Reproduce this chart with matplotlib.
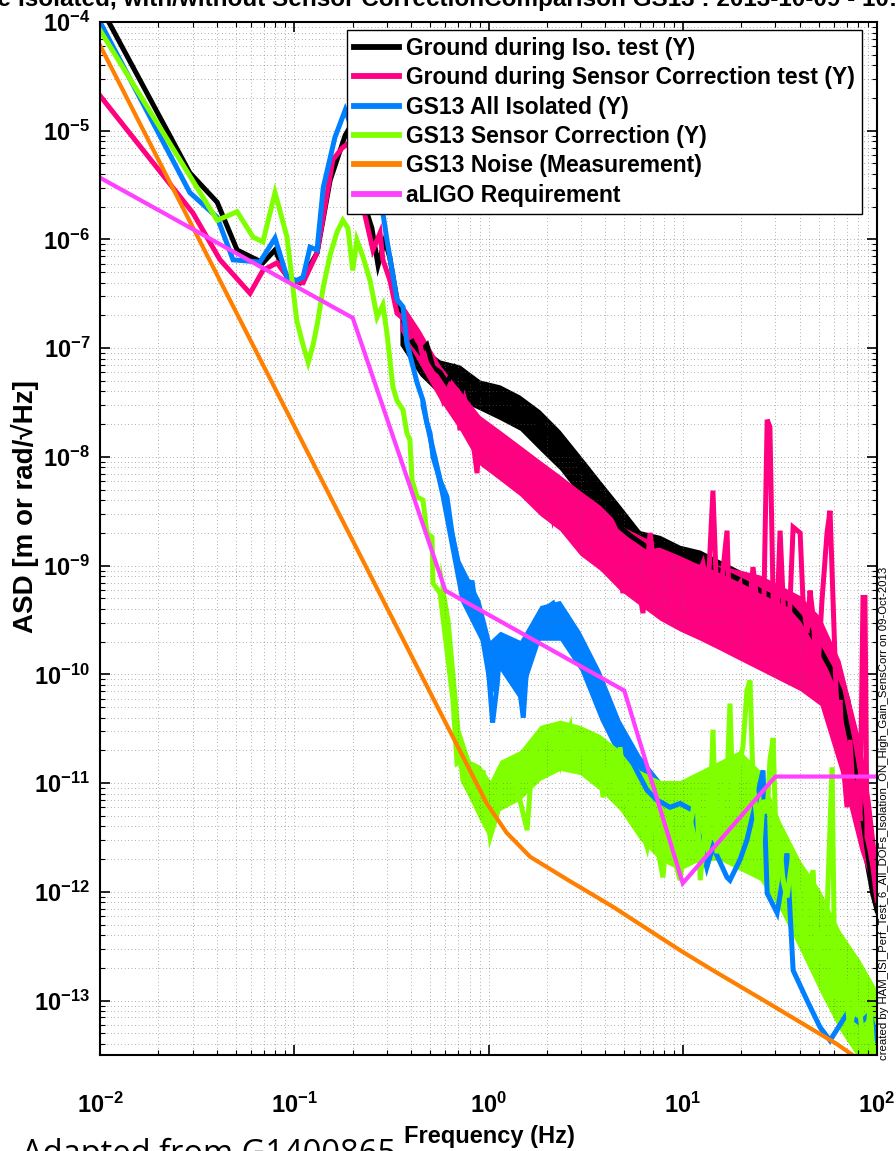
import matplotlib
matplotlib.use('Agg')
import matplotlib.pyplot as plt
from matplotlib.ticker import LogLocator, NullFormatter

plt.rcParams['font.family'] = ['Liberation Sans', 'DejaVu Sans']
plt.rcParams['font.weight'] = 'bold'
plt.rcParams['mathtext.fontset'] = 'custom'
plt.rcParams['mathtext.rm'] = 'Liberation Sans:bold'
plt.rcParams['mathtext.bf'] = 'Liberation Sans:bold'
plt.rcParams['mathtext.it'] = 'Liberation Sans:bold:italic'

# (frequency Hz, ASD)
ground_iso = [(0.01, 1.4e-4), (0.0113, 9.4e-5), (0.029, 4.1e-6), (0.0401, 2.2e-6), (0.0508, 8.0e-7),
              (0.069, 6.1e-7), (0.0796, 8.0e-7), (0.0918, 4.5e-7), (0.107, 4.0e-7), (0.131, 7.5e-7),
              (0.153, 3.5e-6), (0.183, 9.1e-6), (0.206, 1.3e-5), (0.226, 2.3e-6), (0.251, 1.27e-6),
              (0.27, 5.8e-7), (0.293, 9.9e-7), (0.311, 6.7e-7), (0.338, 2.8e-7), (0.372, 1.63e-7),
              (0.409, 1.11e-7), (0.444, 9.2e-8), (0.482, 1.07e-7), (0.518, 6.7e-8), (0.563, 6.0e-8),
              (0.611, 4.8e-8), (0.671, 6.6e-8), (0.73, 5.3e-8), (0.832, 5.1e-8), (0.904, 3.9e-8),
              (1.02, 3.3e-8), (1.15, 3.8e-8), (1.34, 3.2e-8), (1.45, 2.6e-8), (1.64, 2.8e-8),
              (1.84, 1.96e-8), (2.0, 1.7e-8), (2.2, 1.43e-8), (2.54, 1.1e-8), (2.79, 1.03e-8),
              (2.96, 8.4e-9), (3.33, 6.1e-9), (3.75, 4.4e-9), (4.22, 3.6e-9), (4.76, 2.26e-9),
              (5.35, 1.9e-9), (6.55, 1.48e-9), (7.64, 1.55e-9), (9.69, 1.3e-9), (11.6, 1.12e-9),
              (14.3, 9.7e-10), (17.5, 8.2e-10), (21.4, 6.9e-10), (25.0, 5.9e-10), (31.7, 4.8e-10),
              (35.7, 4.3e-10), (41.6, 3.15e-10), (48.0, 2.06e-10), (57.3, 1.16e-10), (64.5, 7.1e-11),
              (72.6, 2.5e-11), (81.8, 7.0e-12), (92.1, 1.58e-12), (100, 6.8e-13)]

ground_sc = [(0.01, 2.1e-5), (0.0301, 1.75e-6), (0.0415, 6.5e-7), (0.0592, 3.2e-7), (0.069, 5.2e-7),
             (0.0815, 6.1e-7), (0.0951, 4.2e-7), (0.111, 4.0e-7), (0.131, 7.5e-7), (0.158, 5.4e-6),
             (0.176, 6.9e-6), (0.199, 8.2e-6), (0.226, 2.0e-6), (0.254, 8.0e-7), (0.2765, 1.15e-6),
             (0.286, 6.5e-7), (0.311, 4.2e-7), (0.338, 2.1e-7), (0.372, 1.8e-7), (0.394, 1.26e-7),
             (0.429, 1.38e-7), (0.46, 8.3e-8), (0.518, 5.9e-8), (0.583, 3.3e-8), (0.634, 4.6e-8),
             (0.689, 4.1e-8), (0.713, 1.76e-8), (0.757, 3.3e-8), (0.803, 2.3e-8), (0.873, 7.1e-9),
             (0.904, 1.88e-8), (1.02, 1.43e-8), (1.11, 8.1e-9), (1.19, 1.23e-8), (1.25, 6.1e-9),
             (1.34, 1.0e-8), (1.51, 9.3e-9), (1.7, 5.3e-9), (1.84, 7.6e-9), (2.0, 6.5e-9),
             (2.15, 2.8e-9), (2.34, 4.9e-9), (2.54, 4.6e-9), (2.72, 2.0e-9), (2.89, 4.0e-9),
             (3.07, 3.45e-9), (3.33, 1.2e-9), (3.53, 2.9e-9), (3.75, 2.8e-9), (4.08, 8.5e-10),
             (4.38, 1.48e-9), (4.64, 1.12e-9), (4.92, 5.6e-10), (5.22, 1.25e-9), (5.54, 1.3e-9),
             (6.24, 3.66e-10), (6.79, 2.0e-9), (7.36, 5.9e-10), (7.82, 1.12e-9), (8.3, 9.7e-10),
             (8.9, 3.15e-10), (9.69, 9.1e-10), (10.5, 7.8e-10), (11.3, 2.4e-10), (12.0, 8.2e-10),
             (12.7, 1.05e-9), (13.5, 5.9e-10), (14.3, 4.9e-9), (15.0, 4.8e-10), (15.9, 7.3e-10),
             (16.9, 2.1e-9), (17.5, 2.4e-10), (18.6, 5.9e-10), (19.7, 6.9e-10), (21.4, 1.57e-10),
             (22.2, 4.8e-10), (23.0, 9.7e-10), (24.4, 3.9e-10), (25.9, 1.67e-10), (27.2, 2.2e-8),
             (28.1, 1.88e-8), (29.2, 4.8e-10), (29.9, 1.16e-10), (31.7, 2.1e-9), (33.2, 3.15e-10),
             (34.4, 9.4e-11), (37.0, 2.26e-9), (40.2, 2.0e-9), (41.6, 4.8e-10), (43.7, 2.4e-10),
             (45.2, 5.9e-10), (46.9, 3.4e-10), (49.2, 8.3e-11), (52.1, 4.8e-10), (55.3, 2.0e-9),
             (57.3, 3.2e-9), (59.4, 4.8e-10), (62.3, 3.8e-11), (64.5, 5.8e-11), (66.8, 1.62e-11),
             (70.1, 6.0e-12), (72.6, 2.5e-11), (75.3, 8.6e-12), (78.9, 1.02e-11), (81.8, 4.5e-12),
             (84.7, 5.1e-10), (86.7, 5.1e-10), (88.8, 3.2e-12), (92.1, 2.4e-12), (95.3, 1.68e-12),
             (100, 8.4e-13)]

gs13_iso = [(0.01, 1.0e-4), (0.029, 2.7e-6), (0.0401, 1.6e-6), (0.0484, 6.5e-7), (0.0666, 6.2e-7),
            (0.0796, 1.03e-6), (0.0918, 4.5e-7), (0.103, 4.2e-7), (0.111, 4.5e-7), (0.1206, 8.5e-7),
            (0.131, 8.0e-7), (0.141, 3.0e-6), (0.162, 8.7e-6), (0.183, 1.55e-5), (0.218, 6.6e-6),
            (0.26, 2.8e-6), (0.286, 1.75e-6), (0.30, 9.9e-7), (0.338, 2.8e-7), (0.363, 2.4e-7),
            (0.38, 1.11e-7), (0.409, 6.7e-8), (0.429, 4.8e-8), (0.46, 3.3e-8), (0.482, 2.05e-8),
            (0.5, 1.66e-8), (0.518, 1.0e-8), (0.563, 6.1e-9), (0.611, 4.3e-9), (0.649, 2.0e-9),
            (0.689, 1.12e-9), (0.739, 6.9e-10), (0.775, 4.8e-10), (0.822, 7.3e-10), (0.863, 3.9e-10),
            (0.904, 3.15e-10), (0.982, 1.67e-10), (1.05, 3.6e-11), (1.11, 8.3e-11), (1.146, 1.94e-10),
            (1.25, 1.67e-10), (1.34, 1.16e-10), (1.45, 7.1e-11), (1.51, 4.0e-11), (1.58, 1.35e-10),
            (1.7, 2.4e-10), (1.84, 3.15e-10), (2.0, 4.1e-10), (2.15, 4.5e-10), (2.34, 3.15e-10),
            (2.54, 3.4e-10), (2.72, 2.4e-10), (2.96, 1.57e-10), (3.22, 1.16e-10), (3.62, 8.8e-11),
            (3.98, 5.2e-11), (4.38, 2.5e-11), (4.92, 2.0e-11), (5.54, 1.52e-11), (6.55, 8.6e-12),
            (7.36, 7.0e-12), (8.6, 6.0e-12), (9.69, 6.5e-12), (11.3, 5.6e-12), (13.3, 1.68e-12),
            (14.3, 2.6e-12), (16.9, 1.36e-12), (17.5, 1.28e-12), (19.7, 1.97e-12), (21.4, 3.0e-12),
            (24.1, 7.4e-12), (25.9, 1.31e-11), (27.2, 9.7e-13), (30.6, 6.4e-13), (34.4, 2.26e-12),
            (37.0, 1.9e-13), (43.7, 1.0e-13), (50.9, 5.7e-14), (57.3, 4.3e-14), (70.1, 7.6e-14),
            (81.8, 6.2e-14), (92.1, 7.6e-14), (100, 4.3e-14)]

gs13_sc = [(0.01, 8.4e-5), (0.0401, 1.5e-6), (0.0508, 1.8e-6), (0.0614, 1.05e-6), (0.069, 9.5e-7),
           (0.0796, 2.7e-6), (0.0918, 1.05e-6), (0.103, 1.8e-7), (0.111, 1.07e-7), (0.118, 7.4e-8),
           (0.125, 1.07e-7), (0.132, 1.74e-7), (0.141, 3.65e-7), (0.153, 7.2e-7), (0.166, 1.17e-6),
           (0.178, 1.5e-6), (0.189, 1.27e-6), (0.2, 5.2e-7), (0.21, 9.9e-7), (0.226, 6.9e-7),
           (0.2455, 4.2e-7), (0.267, 1.93e-7), (0.286, 2.5e-7), (0.30, 1.38e-7), (0.322, 4.4e-8),
           (0.338, 3.3e-8), (0.363, 2.7e-8), (0.38, 1.66e-8), (0.394, 1.43e-8), (0.404, 6.1e-9),
           (0.429, 4.3e-9), (0.46, 4.0e-9), (0.482, 2.0e-9), (0.512, 1.83e-9), (0.518, 6.9e-10),
           (0.563, 5.6e-10), (0.611, 1.67e-10), (0.656, 5.8e-11), (0.689, 1.52e-11), (0.73, 1.62e-11),
           (0.775, 1.23e-11), (0.822, 8.6e-12), (0.873, 7.4e-12), (0.937, 1.31e-11), (0.982, 5.6e-12),
           (1.02, 3.2e-12), (1.11, 5.3e-12), (1.146, 1.06e-11), (1.25, 1.13e-11), (1.34, 1.4e-11),
           (1.4, 8.6e-12), (1.45, 7.0e-12), (1.58, 3.7e-12), (1.7, 2.14e-11), (1.78, 1.46e-11),
           (1.84, 1.73e-11), (2.0, 2.9e-11), (2.15, 3.1e-11), (2.25, 2.0e-11), (2.34, 1.52e-11),
           (2.48, 2.5e-11), (2.63, 3.3e-11), (2.72, 1.73e-11), (2.86, 2.5e-11), (2.96, 2.6e-11),
           (3.22, 1.4e-11), (3.41, 2.2e-11), (3.62, 2.3e-11), (3.89, 7.4e-12), (4.08, 1.31e-11),
           (4.22, 1.62e-11), (4.59, 8.6e-12), (4.76, 2.14e-11), (5.04, 7.0e-12), (5.35, 5.6e-12),
           (5.81, 8.6e-12), (6.17, 3.7e-12), (6.55, 2.6e-12), (7.03, 6.0e-12), (7.46, 2.4e-12),
           (7.91, 1.36e-12), (8.3, 3.7e-12), (8.6, 4.3e-12), (9.12, 1.95e-12), (9.69, 1.28e-12),
           (10.3, 3.7e-12), (10.9, 4.0e-12), (11.8, 8.6e-12), (12.3, 1.28e-12), (13.0, 3.7e-12),
           (13.8, 4.5e-12), (14.3, 3.1e-11), (15.0, 2.26e-12), (15.9, 7.0e-12), (16.9, 1.06e-11),
           (17.5, 5.4e-11), (18.2, 5.3e-12), (19.2, 1.31e-11), (20.4, 2.14e-11), (21.4, 7.1e-11),
           (22.2, 8.8e-11), (23.0, 1.06e-11), (24.1, 4.5e-12), (25.0, 2.6e-12), (25.9, 7.0e-12),
           (27.2, 5.3e-12), (28.1, 1.62e-11), (29.2, 2.6e-11), (30.6, 1.28e-12), (31.7, 2.6e-12),
           (32.8, 1.28e-12), (34.4, 8.9e-13), (36.5, 1.95e-12), (38.7, 1.48e-12), (40.2, 5.5e-13),
           (41.6, 3.1e-13), (44.2, 1.1e-12), (46.9, 1.58e-12), (49.2, 2.2e-13), (52.1, 4.4e-13),
           (55.3, 6.4e-13), (58.7, 1.4e-11), (60.8, 1.07e-13), (64.5, 2.35e-13), (66.8, 2.2e-13),
           (70.1, 1.0e-13), (72.6, 5.3e-14), (77.1, 1.0e-13), (81.8, 7.6e-14), (84.7, 4.3e-14),
           (88.8, 4.3e-14), (92.1, 8.7e-14), (95.3, 3.5e-14), (100, 1.5e-14)]

gs13_noise = [(0.01, 6.1e-5), (0.98, 6.5e-12), (1.24, 3.5e-12), (1.64, 2.1e-12), (2.54, 1.3e-12),
              (4.37, 7.3e-13), (9.7, 2.9e-13), (14.3, 1.9e-13), (29.0, 9.0e-14), (43.7, 5.8e-14),
              (62.0, 4.0e-14), (100, 2.2e-14)]

aligo_req = [(0.01, 3.7e-6), (0.2, 1.9e-7), (0.6, 5.9e-10), (5.0, 7.1e-11), (10.0, 1.2e-12),
             (30.0, 1.15e-11), (100, 1.15e-11)]

# spread of the dense spectra: (frequency Hz, upper ASD, lower ASD)
ground_iso_band = [(0.35, 2.0e-7, 1.07e-7), (0.444, 1.07e-7, 5.6e-8), (0.563, 7.8e-8, 3.7e-8),
                   (0.713, 7.0e-8, 3.3e-8), (0.904, 5.1e-8, 2.7e-8), (1.146, 4.6e-8, 2.2e-8),
                   (1.453, 3.7e-8, 1.76e-8), (1.842, 2.7e-8, 1.15e-8), (2.335, 1.76e-8, 7.6e-9),
                   (2.96, 1.04e-8, 4.4e-9), (3.75, 6.1e-9, 2.6e-9), (4.76, 3.6e-9, 1.54e-9),
                   (6.03, 2.1e-9, 1.0e-9), (7.64, 1.9e-9, 8.2e-10), (9.69, 1.54e-9, 6.6e-10),
                   (12.3, 1.39e-9, 5.3e-10), (15.6, 1.12e-9, 4.8e-10), (19.7, 9.1e-10, 3.9e-10),
                   (25.0, 7.3e-10, 2.8e-10), (31.7, 5.9e-10, 2.06e-10), (40.2, 4.8e-10, 1.35e-10),
                   (50.9, 2.8e-10, 7.1e-11), (64.5, 1.21e-10, 2.5e-11), (72.6, 5.8e-11, 8.6e-12),
                   (81.8, 1.62e-11, 3.0e-12), (92.1, 4.5e-12, 9.3e-13), (100, 1.28e-12, 5.5e-13)]

ground_sc_band = [(0.35, 2.8e-7, 1.47e-7), (0.444, 1.47e-7, 7.0e-8), (0.563, 7.0e-8, 3.3e-8),
                  (0.713, 4.1e-8, 1.76e-8), (0.904, 2.4e-8, 8.4e-9), (1.146, 1.76e-8, 6.1e-9),
                  (1.453, 1.28e-8, 4.4e-9), (1.842, 9.3e-9, 2.9e-9), (2.335, 6.8e-9, 2.1e-9),
                  (2.96, 4.9e-9, 1.25e-9), (3.75, 3.6e-9, 9.1e-10), (4.76, 2.35e-9, 5.9e-10),
                  (6.03, 1.9e-9, 4.3e-10), (7.64, 1.54e-9, 3.15e-10), (9.69, 1.25e-9, 2.5e-10),
                  (12.3, 1.12e-9, 2.06e-10), (15.6, 1.0e-9, 1.67e-10), (19.7, 9.1e-10, 1.35e-10),
                  (25.0, 8.2e-10, 1.09e-10), (31.7, 6.6e-10, 8.8e-11), (40.2, 5.3e-10, 7.1e-11),
                  (50.9, 3.4e-10, 5.2e-11), (64.5, 1.35e-10, 1.31e-11), (72.6, 5.8e-11, 5.6e-12),
                  (81.8, 2.5e-11, 2.4e-12), (92.1, 7.0e-12, 1.28e-12), (100, 1.95e-12, 6.8e-13)]

gs13_iso_band = [(0.444, 4.6e-8, 3.0e-8), (0.563, 7.6e-9, 4.4e-9), (0.713, 1.12e-9, 4.8e-10),
                 (0.904, 4.8e-10, 2.06e-10), (1.02, 2.06e-10, 5.8e-11), (1.146, 2.5e-10, 1.09e-10),
                 (1.453, 2.06e-10, 5.8e-11), (1.842, 4.3e-10, 2.06e-10), (2.335, 4.8e-10, 2.06e-10),
                 (2.96, 2.5e-10, 1.09e-10), (3.75, 1.09e-10, 3.8e-11), (4.76, 3.8e-11, 1.62e-11),
                 (6.03, 1.8e-11, 7.7e-12), (7.64, 1.06e-11, 5.1e-12), (9.69, 8.6e-12, 3.7e-12),
                 (12.3, 7.7e-12, 1.58e-12)]

gs13_sc_band = [(0.563, 1.12e-9, 4.8e-10), (0.634, 3.15e-10, 7.1e-11), (0.713, 3.1e-11, 1.06e-11),
                (0.803, 1.62e-11, 7.0e-12), (0.904, 1.46e-11, 4.5e-12), (1.02, 1.06e-11, 3.0e-12),
                (1.146, 1.62e-11, 5.6e-12), (1.453, 2.0e-11, 7.0e-12), (1.842, 3.4e-11, 1.06e-11),
                (2.335, 3.8e-11, 1.31e-11), (2.96, 3.4e-11, 1.2e-11), (3.75, 2.8e-11, 8.6e-12),
                (4.76, 2.0e-11, 5.6e-12), (6.03, 1.31e-11, 3.0e-12), (7.64, 1.06e-11, 1.95e-12),
                (9.69, 1.06e-11, 1.58e-12), (12.3, 1.31e-11, 1.95e-12), (15.6, 1.62e-11, 1.95e-12),
                (19.7, 2.0e-11, 1.58e-12), (25.0, 1.31e-11, 1.28e-12), (31.7, 4.5e-12, 6.8e-13),
                (40.2, 1.95e-12, 2.9e-13), (50.9, 1.04e-12, 1.2e-13), (64.5, 4.4e-13, 5.3e-14),
                (81.8, 2.35e-13, 2.8e-14), (100, 1.25e-13, 2.8e-14)]

labels = ['Ground during Iso. test (Y)', 'Ground during Sensor Correction test (Y)',
          'GS13 All Isolated (Y)', 'GS13 Sensor Correction (Y)',
          'GS13 Noise (Measurement)', 'aLIGO Requirement']
colors = ['#000000', '#ff0080', '#0080ff', '#80ff00', '#ff8000', '#ff40ff']
widths = [3.6, 3.6, 3.6, 3.6, 3.0, 3.0]
series = [ground_iso, ground_sc, gs13_iso, gs13_sc, gs13_noise, aligo_req]
bands = [ground_iso_band, ground_sc_band, gs13_iso_band, gs13_sc_band, None, None]

fig = plt.figure(figsize=(8.96, 11.51), dpi=100)
ax = fig.add_axes([100/896, 1-1055/1151, 777/896, 1033/1151])

for data, band, lab, c, w in zip(series, bands, labels, colors, widths):
    if band is not None:
        bf, bhi, blo = zip(*band)
        ax.fill_between(bf, blo, bhi, color=c, lw=0)
    f, a = zip(*data)
    ax.plot(f, a, color=c, lw=w, label=lab, solid_joinstyle='miter')

ax.set_xscale('log')
ax.set_yscale('log')
ax.set_xlim(1e-2, 1e2)
ax.set_ylim(10**-13.5, 1e-4)
ax.xaxis.set_major_locator(LogLocator(base=10, numticks=10))
ax.yaxis.set_major_locator(LogLocator(base=10, numticks=20))
ax.xaxis.set_minor_locator(LogLocator(base=10, subs=range(2, 10), numticks=20))
ax.yaxis.set_minor_locator(LogLocator(base=10, subs=range(2, 10), numticks=20))
ax.xaxis.set_minor_formatter(NullFormatter())
ax.yaxis.set_minor_formatter(NullFormatter())

ax.grid(True, which='both', linestyle=(0, (1, 4)), color='#666666', linewidth=0.5)
ax.tick_params(which='both', direction='in', top=True, right=True, labelsize=17)
ax.tick_params(which='major', length=7, width=1.2)
ax.tick_params(which='minor', length=3.5, width=0.8)
ax.tick_params(axis='x', pad=27)
ax.tick_params(axis='y', pad=7)
for s in ax.spines.values():
    s.set_linewidth(1.5)

leg = ax.legend(loc='upper right', bbox_to_anchor=(0.9807, 0.9923), borderaxespad=0,
                prop={'size': 16.5, 'weight': 'bold'}, handlelength=2.0, handletextpad=0.3,
                labelspacing=0.28, borderpad=0.3, fancybox=False, framealpha=1)
leg.get_frame().set_edgecolor('black')
leg.get_frame().set_linewidth(1.0)
for line in leg.get_lines():
    line.set_linewidth(4.2)

fig.text(25/896, 1-507/1151, 'ASD [m or rad/√Hz]', rotation=90, ha='center', va='center',
         fontsize=20, fontweight='bold')
fig.text(489/896, 1-1137/1151, 'Frequency (Hz)', ha='center', va='center',
         fontsize=17, fontweight='bold')
fig.text(18/896, 1-6/1151, 'HAM6 ISI Stage ', ha='right', va='baseline', fontsize=17.5, fontweight='bold')
fig.text(18/896, 1-6/1151, 'Isolated, with/without Sensor CorrectionComparison GS13 : 2013-10-09 - 10:25',
         ha='left', va='baseline', fontsize=17.5, fontweight='bold')
fig.text(884/896, 1-1060/1151,
         'created by HAM_ISI_Perf_Test_6_All_DOFs_Isolation_ON_High_Gain_SensCorr on 09-Oct-2013',
         rotation=90, ha='center', va='bottom', fontsize=8.2, fontweight='normal')
fig.text(22/896, 1-1163/1151, 'Adapted from G1400865', ha='left', va='baseline',
         fontsize=23.5, fontweight='normal', family=['Open Sans', 'DejaVu Sans'])

fig.savefig('out.png', dpi=100)
